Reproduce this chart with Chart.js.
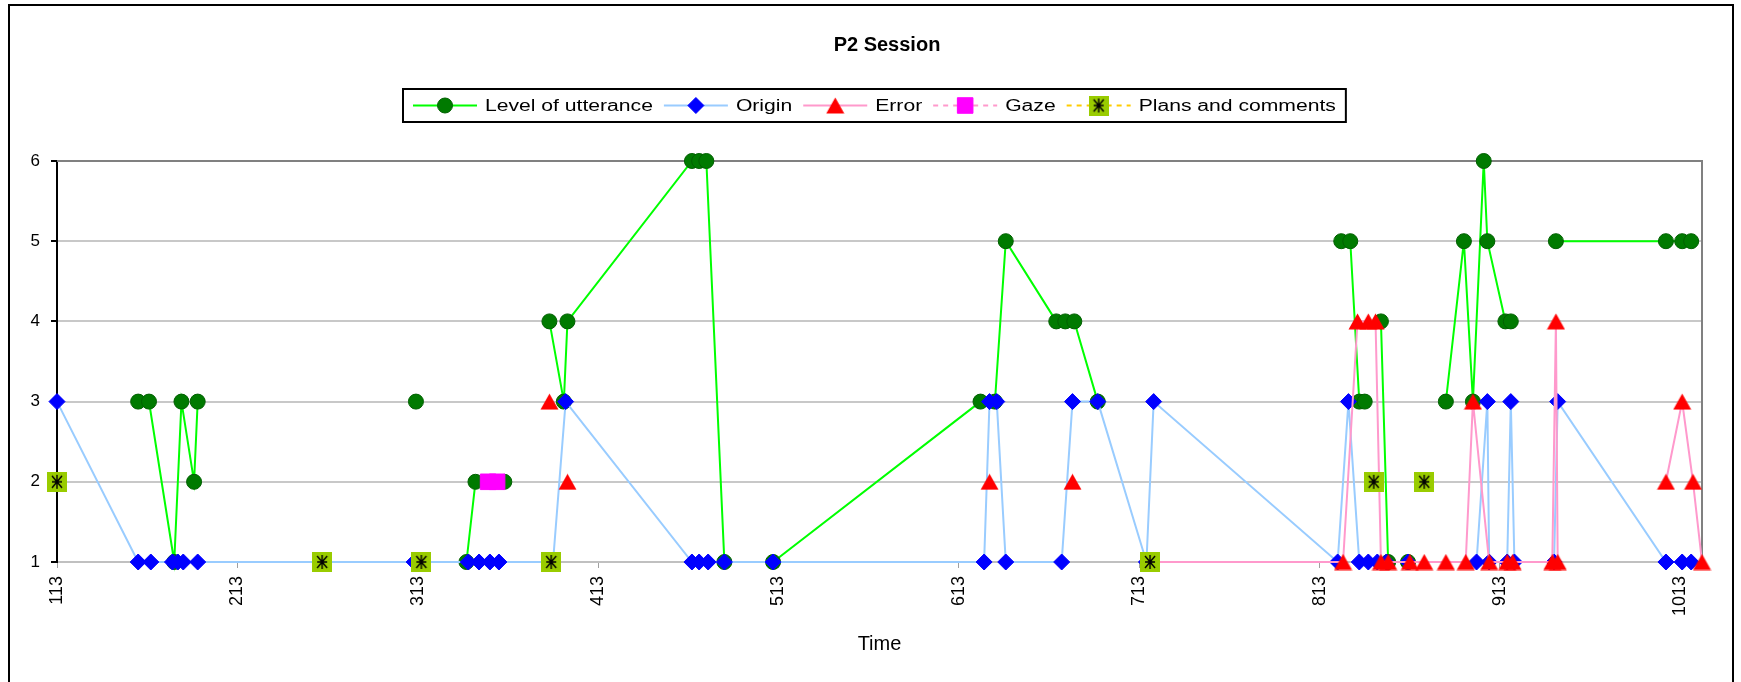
<!DOCTYPE html>
<html>
<head>
<meta charset="utf-8">
<script src="https://cdn.jsdelivr.net/npm/chart.js@4/dist/chart.umd.min.js"></script>
<style>
  html, body { margin: 0; padding: 0; background: #ffffff; }
  canvas { display: block; }
</style>
</head>
<body>
<canvas id="session" width="1741" height="682"></canvas>
<script>
// P2 session timeline: each series is a list of times and values.
// A null entry ends a run, so the line breaks there.
const levelTimes  = [158, 164, 178, 182, 189, 191, null, 312, null, 340, 345, 361, null,
                     386, 394, 396, 465, 469, 473, 483, null, 510, 625, 633, 639, 667, 672, 677, 690, null,
                     825, 830, 835, 838, null, 847, 851, null, 862, null,
                     883, 893, 898, 904, 906, 916, 919, null, 944, 1005, 1014, 1019];
const levelValues = [3, 3, 1, 3, 2, 3, null, 3, null, 1, 2, 2, null,
                     4, 3, 4, 6, 6, 6, 1, null, 1, 3, 3, 5, 4, 4, 4, 3, null,
                     5, 5, 3, 3, null, 4, 1, null, 1, null,
                     3, 5, 3, 6, 5, 4, 4, null, 5, 5, 5, 5];

const originTimes  = [113, 158, 165, 177, 180, 183, 191, 311, 341, 347, 353, 358, 388, 395,
                      465, 469, 474, 483, 510, 627, 630, 634, 639, 670, 676, 690, 717, 721,
                      823, 829, 835, 840, 845, 850, 862, 900, 906, 907, 917, 919, 921, 943, 945,
                      1005, 1014, 1019];
const originValues = [3, 1, 1, 1, 1, 1, 1, 1, 1, 1, 1, 1, 1, 3,
                      1, 1, 1, 1, 1, 1, 3, 3, 1, 1, 3, 3, 1, 3,
                      1, 3, 1, 1, 1, 1, 1, 1, 3, 1, 1, 3, 1, 1, 3,
                      1, 1, 1];

const errorTimes  = [386, null, 396, null, 630, null, 676, null,
                     719, 826, 834, 840, 844, 847, 851, 863, 871, 883, 894, 898, 907, 917, 920, 942, 944, 945, null,
                     1005, 1014, 1020, 1025];
const errorValues = [3, null, 2, null, 2, null, 2, null,
                     1, 1, 4, 4, 4, 1, 1, 1, 1, 1, 1, 3, 1, 1, 1, 1, 4, 1, null,
                     2, 3, 2, 1];

const gazeTimes  = [352, 357];
const gazeValues = [2, 2];

const plansTimes  = [113, null, 260, null, 315, null, 387, null, 719, null, 843, null, 871];
const plansValues = [2, null, 1, null, 1, null, 1, null, 1, null, 2, null, 2];

const seriesNames = ['Level of utterance', 'Origin', 'Error', 'Gaze', 'Plans and comments'];
const xTickValues = [113, 213, 313, 413, 513, 613, 713, 813, 913, 1013];
const yTickValues = [1, 2, 3, 4, 5, 6];
const chartTitle = 'P2 Session';
const xAxisTitle = 'Time';

const FONT = "'Liberation Sans', Arial, sans-serif";
Chart.defaults.font.family = FONT;

function toPoints(times, values) {
  return times.map((t, i) => (t === null
    ? { x: times[i - 1], y: null }
    : { x: t, y: values[i] }));
}

// square yellow-green marker with a black asterisk
function makePlansMarker() {
  const c = document.createElement('canvas');
  c.width = 20; c.height = 20;
  const g = c.getContext('2d');
  g.fillStyle = '#99CC00';
  g.fillRect(0, 0, 20, 20);
  g.strokeStyle = '#000000';
  g.lineWidth = 1.4;
  g.beginPath();
  g.moveTo(10, 3); g.lineTo(10, 17);
  g.moveTo(5, 10); g.lineTo(15, 10);
  g.moveTo(5, 4); g.lineTo(15, 16);
  g.moveTo(15, 4); g.lineTo(5, 16);
  g.stroke();
  return c;
}

// red triangle centred on its value
function makeTriangleMarker() {
  const c = document.createElement('canvas');
  c.width = 19; c.height = 17;
  const g = c.getContext('2d');
  g.fillStyle = '#FF0000';
  g.beginPath();
  g.moveTo(9.5, 0.5);
  g.lineTo(18.5, 16.5);
  g.lineTo(0.5, 16.5);
  g.closePath();
  g.fill();
  return c;
}
const plansMarker = makePlansMarker();
const triangleMarker = makeTriangleMarker();

const datasets = [
  {
    label: seriesNames[0], data: toPoints(levelTimes, levelValues), order: 5,
    borderColor: '#00FF00', borderWidth: 2,
    pointStyle: 'circle', pointRadius: 7.5, pointHoverRadius: 7.5,
    pointBackgroundColor: '#007A00', pointBorderColor: '#006000', pointBorderWidth: 1
  },
  {
    label: seriesNames[1], data: toPoints(originTimes, originValues), order: 4,
    borderColor: '#99CCFF', borderWidth: 2,
    pointStyle: 'rectRot', pointRadius: 8, pointHoverRadius: 8,
    pointBackgroundColor: '#0000FF', pointBorderColor: '#0000FF', pointBorderWidth: 1
  },
  {
    label: seriesNames[2], data: toPoints(errorTimes, errorValues), order: 3,
    borderColor: '#FF99CC', borderWidth: 2,
    pointStyle: triangleMarker, pointRadius: 10, pointHoverRadius: 10,
    pointBackgroundColor: '#FF0000', pointBorderColor: '#FF0000', pointBorderWidth: 1
  },
  {
    label: seriesNames[3], data: toPoints(gazeTimes, gazeValues), order: 2,
    borderColor: '#FF99CC', borderWidth: 2, borderDash: [5, 5],
    pointStyle: 'rect', pointRadius: 11, pointHoverRadius: 11,
    pointBackgroundColor: '#FF00FF', pointBorderColor: '#FF00FF', pointBorderWidth: 1
  },
  {
    label: seriesNames[4], data: toPoints(plansTimes, plansValues), order: 1,
    borderColor: '#FFCC00', borderWidth: 2, borderDash: [5, 5],
    pointStyle: plansMarker, pointRadius: 10, pointHoverRadius: 10
  }
];
datasets.forEach(d => { d.fill = false; d.tension = 0; d.spanGaps = false; d.clip = false; });

// frame, title, plot border and the boxed legend
const decorations = {
  id: 'decorations',
  beforeDraw(chart) {
    const ctx = chart.ctx;
    ctx.save();
    ctx.fillStyle = '#ffffff';
    ctx.fillRect(0, 0, chart.width, chart.height);
    ctx.strokeStyle = '#000000';
    ctx.lineWidth = 2;
    ctx.beginPath();
    ctx.moveTo(9, chart.height + 5);
    ctx.lineTo(9, 5);
    ctx.lineTo(1733, 5);
    ctx.lineTo(1733, chart.height + 5);
    ctx.stroke();
    ctx.restore();
  },
  beforeDatasetsDraw(chart) {
    const { ctx, chartArea: a } = chart;
    ctx.save();
    ctx.strokeStyle = '#808080';
    ctx.lineWidth = 2;
    ctx.beginPath();
    ctx.moveTo(a.left, a.top);
    ctx.lineTo(a.right, a.top);
    ctx.lineTo(a.right, a.bottom);
    ctx.stroke();
    ctx.restore();
  },
  afterDraw(chart) {
    const ctx = chart.ctx;
    const sx = 1.32;
    ctx.save();
    // title
    ctx.fillStyle = '#000000';
    ctx.font = 'bold 20px ' + FONT;
    ctx.textBaseline = 'middle';
    ctx.textAlign = 'center';
    ctx.fillText(chartTitle, 887, 45);
    ctx.textAlign = 'left';

    // legend
    ctx.font = '16px ' + FONT;
    const sample = 64, gap = 8, itemGap = 11, padX = 10;
    const widths = chart.data.datasets.map(d => ctx.measureText(d.label).width * sx);
    const total = padX * 2 + widths.reduce((s, w) => s + w, 0)
      + chart.data.datasets.length * (sample + gap) + (chart.data.datasets.length - 1) * itemGap;
    const bx = 403, by = 89, bh = 33;
    ctx.fillStyle = '#ffffff';
    ctx.fillRect(bx, by, total, bh);
    ctx.strokeStyle = '#000000';
    ctx.lineWidth = 2;
    ctx.strokeRect(bx, by, total, bh);
    const cy = by + bh / 2;
    let x = bx + padX;
    chart.data.datasets.forEach((d, i) => {
      ctx.save();
      ctx.strokeStyle = d.borderColor;
      ctx.lineWidth = d.borderWidth;
      ctx.setLineDash(d.borderDash || []);
      ctx.beginPath();
      ctx.moveTo(x, cy);
      ctx.lineTo(x + sample, cy);
      ctx.stroke();
      ctx.setLineDash([]);
      ctx.fillStyle = d.pointBackgroundColor || '#000000';
      ctx.strokeStyle = d.pointBorderColor || '#000000';
      ctx.lineWidth = d.pointBorderWidth || 0;
      Chart.helpers.drawPoint(ctx, {
        pointStyle: d.pointStyle,
        radius: d.pointRadius,
        rotation: 0,
        borderWidth: d.pointBorderWidth || 0
      }, x + sample / 2, cy);
      ctx.restore();
      x += sample + gap;
      ctx.save();
      ctx.fillStyle = '#000000';
      ctx.translate(x, cy + 1);
      ctx.scale(sx, 1);
      ctx.textBaseline = 'middle';
      ctx.fillText(d.label, 0, 0);
      ctx.restore();
      x += widths[i] + itemGap;
    });
    ctx.restore();
  }
};

new Chart(document.getElementById('session'), {
  type: 'line',
  data: { datasets },
  options: {
    responsive: false,
    animation: false,
    devicePixelRatio: 1,
    layout: { padding: { left: 0, right: 39, top: 161, bottom: 0 } },
    plugins: { legend: { display: false }, title: { display: false }, tooltip: { enabled: false } },
    scales: {
      x: {
        type: 'linear',
        min: 113,
        max: 1025,
        afterBuildTicks: axis => { axis.ticks = xTickValues.map(v => ({ value: v })); },
        afterFit: scale => { scale.height = 120; },
        ticks: {
          autoSkip: false, minRotation: 90, maxRotation: 90,
          color: '#000000', font: { size: 18 }, padding: 8,
          callback: v => String(v)
        },
        grid: { drawOnChartArea: false, tickLength: 6, color: '#a0a0a0', lineWidth: 1 },
        border: { color: '#c0c0c0', width: 2 },
        title: { display: true, text: xAxisTitle, color: '#000000', font: { size: 20 }, padding: { top: 0, bottom: 26 } }
      },
      y: {
        min: 1,
        max: 6,
        afterBuildTicks: axis => { axis.ticks = yTickValues.map(v => ({ value: v })); },
        afterFit: scale => { scale.width = 57; },
        ticks: { color: '#000000', font: { size: 17 }, padding: 11 },
        grid: {
          color: c => (c.tick && c.tick.value === 6 ? '#808080' : '#c8c8c8'),
          lineWidth: 2, tickLength: 6, tickColor: '#000000'
        },
        border: { color: '#000000', width: 2 }
      }
    }
  },
  plugins: [decorations]
});
</script>
</body>
</html>
